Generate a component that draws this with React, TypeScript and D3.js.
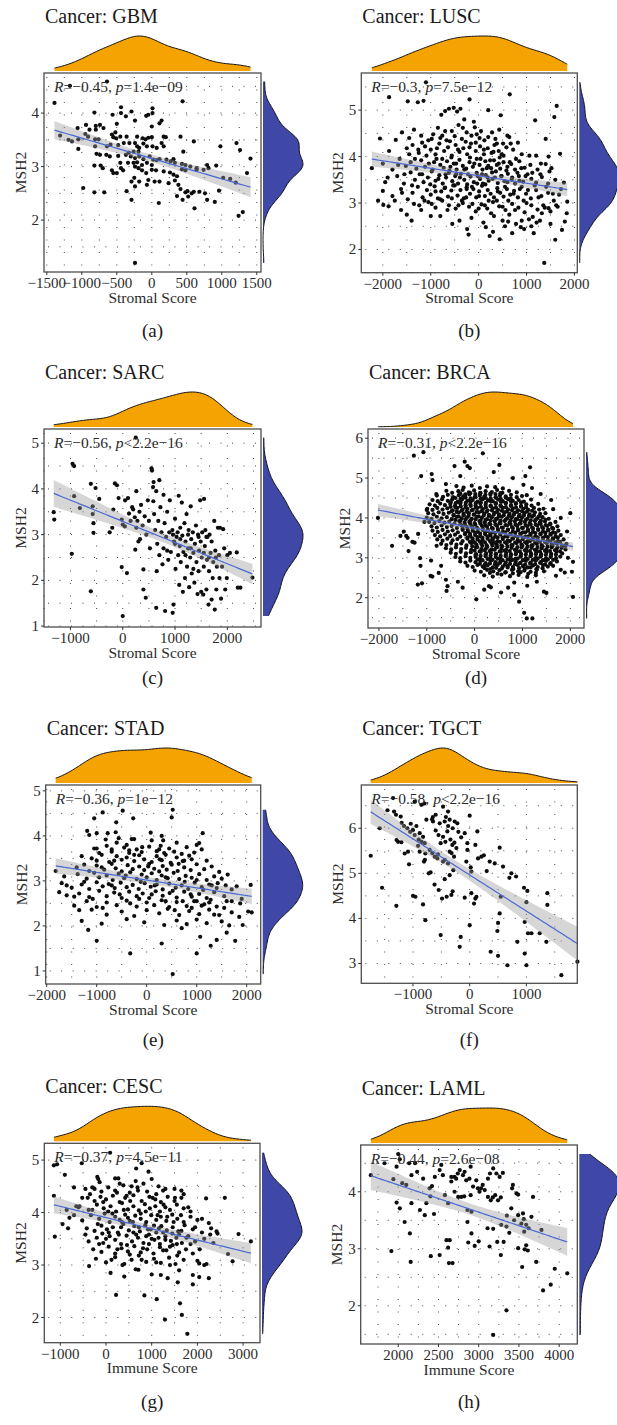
import React from "react";
import * as d3 from "d3";

type Pt = [number, number];

// ---------------- DATA ----------------
const gbmPoints: Pt[] = [[-1170,4.51],[-640,4.59],[-1390,4.19],[440,4.22],[-440,4.11],[10,4.09],[-290,4.03],[-820,4.01],[-560,3.97],[-440,4.00],[-50,3.97],[-80,3.95],[10,4.00],[-370,3.94],[-240,3.86],[-800,3.76],[-940,3.78],[-1060,3.72],[-740,3.78],[-500,3.80],[110,3.81],[140,3.86],[0,3.75],[-890,3.69],[-950,3.61],[-800,3.69],[-690,3.72],[-570,3.60],[-550,3.55],[-510,3.53],[-450,3.56],[-360,3.56],[-520,3.64],[-210,3.56],[-130,3.53],[-90,3.51],[-50,3.54],[0,3.55],[170,3.56],[200,3.55],[410,3.56],[-1050,3.51],[-810,3.51],[-760,3.51],[-910,3.56],[-1190,3.50],[-1310,3.58],[-1140,3.47],[-1050,3.33],[-810,3.38],[-640,3.38],[-590,3.41],[-480,3.40],[-400,3.44],[-320,3.44],[-240,3.44],[-210,3.38],[-180,3.35],[-120,3.43],[-70,3.38],[10,3.38],[70,3.35],[170,3.38],[140,3.44],[600,3.47],[980,3.38],[1210,3.44],[1260,3.31],[450,3.28],[-330,3.26],[-260,3.28],[-190,3.28],[-790,3.24],[-740,3.22],[-650,3.22],[-600,3.19],[-480,3.20],[-370,3.22],[-300,3.19],[-240,3.16],[-180,3.19],[-120,3.14],[-30,3.19],[20,3.13],[70,3.12],[110,3.14],[210,3.13],[310,3.14],[270,3.10],[330,3.07],[430,3.05],[480,3.03],[550,3.00],[640,2.97],[790,3.03],[1410,3.15],[-450,3.07],[-340,3.07],[-260,3.07],[-210,3.08],[-140,3.03],[0,3.03],[-70,3.07],[-820,3.02],[-730,3.02],[-700,2.97],[-570,2.93],[-550,2.88],[-500,2.88],[-440,2.97],[-410,2.93],[-240,3.00],[-190,2.97],[-140,2.93],[-80,2.88],[0,2.94],[60,2.93],[170,2.91],[260,2.89],[310,2.85],[360,2.82],[430,2.95],[480,2.93],[640,2.94],[740,2.94],[810,2.97],[920,3.02],[1020,2.79],[1120,2.77],[1360,2.88],[-290,2.72],[-250,2.79],[-180,2.72],[-50,2.75],[40,2.72],[110,2.72],[240,2.69],[330,2.74],[380,2.66],[-980,2.60],[-820,2.52],[-680,2.52],[-360,2.54],[-240,2.63],[-70,2.66],[410,2.58],[510,2.54],[570,2.50],[480,2.52],[600,2.53],[680,2.53],[760,2.50],[960,2.55],[1200,2.70],[100,2.32],[360,2.45],[440,2.38],[520,2.44],[610,2.22],[790,2.38],[900,2.34],[-290,2.38],[1240,2.08],[1300,2.15],[-240,1.20]];

const luscPoints: Pt[] = [[-1870,5.28],[-1480,5.19],[-1270,5.17],[-1150,5.20],[-1100,5.60],[-190,5.23],[650,5.34],[200,5.00],[460,4.89],[1630,5.09],[1580,4.85],[1180,4.78],[-700,4.98],[-620,5.03],[-520,5.05],[-450,4.97],[-380,5.03],[-780,4.90],[-300,4.80],[-100,4.75],[50,4.55],
[-1600,4.52],[-1450,4.40],[-1350,4.58],[-1200,4.45],[-1050,4.35],[-950,4.48],[-850,4.62],[-800,4.40],[-700,4.55],[-600,4.33],[-500,4.44],[-420,4.68],[-350,4.38],[-250,4.52],[-150,4.45],[-80,4.63],[20,4.40],[120,4.35],[280,4.52],[350,4.38],[430,4.58],[600,4.45],[640,4.42],[820,4.30],[1400,4.38],
[-2060,4.39],[-1870,4.12],[-1730,4.36],[-1500,4.18],[-1380,4.25],[-1250,4.08],[-1120,4.22],[-1000,4.15],[-900,4.05],[-820,4.28],[-720,4.12],[-640,4.20],[-560,4.02],[-480,4.25],[-400,4.10],[-320,4.18],[-240,4.05],[-160,4.28],[-60,4.12],[30,4.22],[110,4.05],[190,4.18],[270,4.08],[330,4.25],[420,4.12],[520,4.02],[580,4.20],[720,4.15],[900,4.05],[1200,4.02],[1700,4.06],[1460,4.00],
[-2230,3.75],[-2000,3.85],[-1800,3.72],[-1650,3.95],[-1520,3.80],[-1420,3.88],[-1300,3.74],[-1200,3.92],[-1120,3.78],[-1040,3.85],[-960,3.72],[-880,3.95],[-800,3.82],[-730,3.76],[-660,3.90],[-590,3.78],[-520,3.85],[-460,3.72],[-400,3.93],[-330,3.80],[-260,3.74],[-190,3.88],[-120,3.78],[-40,3.95],[20,3.82],[80,3.72],[140,3.90],[200,3.80],[260,3.75],[320,3.92],[380,3.82],[450,3.74],[520,3.88],[600,3.78],[680,3.84],[760,3.72],[850,3.90],[960,3.76],[1080,3.82],[1230,3.72],[1400,3.84],[1520,3.75],
[-1950,3.45],[-1700,3.58],[-1560,3.42],[-1420,3.66],[-1330,3.50],[-1230,3.62],[-1150,3.45],[-1060,3.55],[-980,3.68],[-900,3.48],[-820,3.60],[-750,3.42],[-680,3.55],[-620,3.65],[-550,3.47],[-490,3.58],[-430,3.42],[-370,3.63],[-300,3.50],[-240,3.40],[-170,3.57],[-100,3.45],[-40,3.65],[30,3.52],[90,3.42],[150,3.60],[210,3.48],[280,3.66],[340,3.55],[400,3.43],[470,3.58],[540,3.47],[610,3.63],[690,3.50],[760,3.42],[840,3.58],[930,3.46],[1020,3.62],[1100,3.52],[1200,3.44],[1320,3.56],[1450,3.42],[1600,3.50],[1780,3.44],
[-2000,3.26],[-1800,3.15],[-1620,3.30],[-1480,3.08],[-1380,3.22],[-1270,3.35],[-1170,3.12],[-1080,3.28],[-1000,3.18],[-920,3.36],[-850,3.10],[-780,3.25],[-700,3.33],[-640,3.14],[-570,3.27],[-500,3.38],[-440,3.16],[-380,3.28],[-310,3.10],[-250,3.34],[-180,3.20],[-110,3.30],[-50,3.12],[10,3.25],[70,3.37],[130,3.15],[190,3.28],[250,3.20],[320,3.12],[390,3.32],[450,3.22],[520,3.14],[590,3.30],[660,3.18],[740,3.26],[820,3.12],[900,3.35],[990,3.20],[1090,3.10],[1200,3.28],[1310,3.15],[1450,3.22],[1570,3.05],[1680,3.18],[1850,3.03],
[-1990,2.96],[-1880,2.93],[-1500,2.75],[-1350,2.98],[-1200,2.85],[-1050,3.02],[-900,2.90],[-760,3.05],[-620,2.95],[-480,2.88],[-330,3.00],[-200,2.92],[-60,2.82],[60,2.97],[180,2.88],[300,3.02],[430,2.93],[560,2.85],[700,2.98],[830,2.90],[960,2.80],[1100,2.95],[1230,2.86],[1380,2.90],[1500,2.82],[1620,2.95],[1840,2.78],
[-1400,2.62],[-1000,2.72],[-550,2.55],[-150,2.68],[100,2.58],[320,2.72],[500,2.62],[616,2.60],[780,2.55],[950,2.44],[1050,2.65],[1210,2.58],[1320,2.78],[1460,2.89],[1740,2.42],[-240,2.44],[-210,2.32],
[230,2.29],[440,2.22],[1600,2.21],[1370,1.71],[300,2.38],[700,2.35],[880,2.48],[1150,2.35]];

const luscExtraPoints: Pt[] = [[-1450,4.05],[-1330,3.95],[-1260,4.15],[-1180,3.62],[-1090,4.02],[-1010,3.40],[-930,3.88],[-870,4.18],[-840,3.52],[-760,3.95],[-710,3.32],[-670,4.35],[-610,3.70],[-570,3.98],[-530,3.38],[-470,3.62],[-430,4.15],[-390,3.55],[-350,3.05],[-300,3.72],[-270,4.32],[-220,3.62],[-180,3.98],[-140,3.35],[-90,3.85],[-60,4.30],[-20,3.58],[10,3.15],[40,3.95],[70,3.62],[110,4.15],[140,3.40],[170,3.75],[210,3.05],[240,3.92],[290,3.52],[310,4.10],[360,3.68],[400,3.25],[440,3.98],[480,3.58],[510,4.28],[550,3.35],[580,3.70],[620,3.05],[650,3.88],[700,3.55],[730,3.20],[780,3.95],[810,3.65],[860,3.30],[890,3.75],[940,3.05],[980,3.58],[1030,3.28],[1060,4.02],[1120,3.65],[1170,3.38],[1250,3.12],[1290,3.62],[1350,2.95],[1410,3.35],[1480,3.68],[1550,3.20],[1650,2.92],[1720,3.30],[-1680,3.82],[-1600,3.22],[-1550,3.62],[-1390,3.38],[-1240,2.95],[-1130,3.05],[-980,2.98],[-800,3.08],[-650,2.85],[-560,3.10],[-420,2.95],[-260,3.12],[-130,2.98],[0,2.88],[130,2.95],[260,2.78],[380,3.05],[500,2.92],[640,2.75],[760,2.85],[900,2.62],[1000,3.00],[1130,2.70],[1280,2.62],[-1180,4.30],[-980,4.38],[-760,4.45],[-560,4.55],[-330,4.62],[-190,4.20],[-40,4.48],[200,4.42],[380,4.28],[480,4.05],[670,4.28],[-900,3.25],[-690,3.62],[-470,3.85],[-250,3.30],[-30,3.42],[190,3.55],[420,3.85],[600,3.45],[850,3.48],[1300,3.85],[-1900,3.55],[-2100,3.05],[-1750,3.05],[-1620,2.85],[-800,2.72],[-400,2.62],[150,2.48],[550,2.50],[1100,2.50],[1500,2.55],[1800,2.60]];

const sarcPoints: Pt[] = [[-1320,3.49],[-1310,3.33],[-960,4.55],[-930,4.50],[-930,3.84],[-820,3.58],[-975,2.58],[-610,4.11],[-520,4.02],[-575,3.62],[-575,3.45],[-560,3.25],[-560,3.04],[-450,3.78],[-610,1.76],[-250,3.05],[-200,3.15],[-180,3.55],[-150,4.12],[-110,4.08],[-80,3.80],[-20,3.33],[0,3.22],[40,3.18],[0,1.22],[45,3.75],[100,3.80],[-20,2.29],[80,2.16],[120,3.46],[150,3.30],[180,3.60],[200,3.55],[230,3.38],[250,5.12],[260,3.95],[260,3.15],[240,2.67],[280,3.30],[300,2.85],[320,3.50],[350,3.65],[330,2.90],[380,3.20],[395,2.24],[395,1.80],[440,1.62],[420,3.40],[450,3.00],[480,3.75],[500,3.30],[520,2.70],[550,4.45],[560,4.40],[580,4.04],[590,4.15],[585,3.73],[600,3.45],[620,3.10],[640,3.95],[650,2.20],[660,2.80],[680,3.30],[700,4.19],[700,2.55],[720,3.60],[740,3.05],[760,2.35],[780,3.87],[780,2.70],[800,3.25],[640,1.40],[810,1.33],[830,2.95],[850,3.50],[870,2.45],[890,3.05],[900,3.75],[920,2.62],[955,1.29],[970,1.47],[960,3.00],[980,2.85],[1000,3.35],[1010,2.25],[1030,2.95],[1050,3.05],[1060,2.55],[1070,3.85],[1080,1.90],[1090,2.75],[1100,3.15],[1110,2.40],[1130,3.70],[1140,2.98],[1150,1.75],[1160,2.62],[1180,3.25],[1190,2.05],[1200,2.85],[1220,3.45],[1230,2.30],[1250,2.70],[1260,3.10],[1270,1.85],[1290,2.50],[1300,3.62],[1310,2.90],[1320,2.15],[1340,3.05],[1350,2.60],[1370,1.95],[1380,2.80],[1400,3.20],[1410,2.40],[1430,1.70],[1440,3.00],[1450,2.20],[1460,2.65],[1480,3.75],[1490,2.85],[1500,1.75],[1510,2.50],[1520,3.05],[1540,1.69],[1550,2.30],[1555,3.78],[1570,2.75],[1580,3.10],[1600,1.80],[1610,2.45],[1620,2.95],[1640,1.47],[1650,2.20],[1660,3.00],[1680,2.60],[1700,1.58],[1700,2.85],[1720,2.05],[1730,2.40],[1750,3.30],[1760,1.36],[1770,2.65],[1790,1.80],[1800,2.30],[1820,3.15],[1840,2.55],[1850,2.05],[1860,3.15],[1880,1.60],[1900,2.30],[1920,3.12],[1940,2.70],[1960,1.80],[1990,2.05],[2000,2.55],[2050,2.60],[2180,2.61],[2200,1.84],[2250,1.84],[2480,2.06],[1780,2.50],[1600,2.95],[1450,2.95],[1200,2.55],[1000,2.80],[1300,2.70],[1650,2.50],[950,3.10],[1100,2.90],[850,2.65],[1350,2.25],[1550,2.60],[1250,3.00]];

const brcaOuterPoints: Pt[] = [[-2020,4.00],[-1725,3.30],[-1480,3.66],[-1430,3.55],[-1400,3.50],[-1380,3.17],[-1255,3.38],[-1270,5.56],[-1070,5.65],[-1117,5.05],[-1140,2.99],[-1130,2.80],[-1187,2.33],[-1100,2.36],[-1180,3.60],[-1050,3.90],[-920,2.55],[-883,2.53],[-910,2.93],[-897,5.10],[-880,4.95],[-586,2.17],[-566,2.29],[-420,5.30],[-207,5.41],[-150,5.30],[-100,5.25],[172,5.62],[517,5.33],[1159,5.27],[1021,4.83],[1060,5.05],[1380,4.60],[1642,4.22],[1932,3.66],[2000,4.12],[2056,2.90],[2035,2.65],[2056,2.02],[1884,2.63],[35,1.96],[300,2.29],[340,2.26],[552,2.13],[828,2.07],[828,2.38],[930,1.90],[1035,1.62],[1449,2.15],[1500,2.12],[1090,1.48],[1207,1.48],[-794,3.30],[-700,2.80],[-750,2.62],[-600,2.45],[-350,2.40],[-250,2.25],[200,2.20],[700,2.25],[1100,2.30],[1300,2.40],[1700,2.55],[1800,2.70],[1900,3.30],[1950,3.00],[1800,4.00],[1600,4.45],[1200,4.75],[800,5.00],[400,5.15],[-300,5.05],[-600,4.85],[-800,4.60],[-1000,4.20],[-1300,3.40],[-1550,3.55]];

const brcaCorePoints: Pt[] = [[-380,4.80],[-230,4.76],[-60,4.81],[110,4.75],[260,4.79],[430,4.77],[590,4.74],
[-590,4.68],[-470,4.63],[-340,4.67],[-250,4.70],[-120,4.64],[-10,4.69],[120,4.62],[230,4.67],[360,4.65],[470,4.70],[580,4.63],[720,4.68],[880,4.64],
[-790,4.56],[-660,4.53],[-560,4.58],[-450,4.52],[-330,4.57],[-240,4.54],[-110,4.59],[0,4.52],[110,4.56],[200,4.53],[330,4.58],[440,4.51],[530,4.56],[650,4.54],[760,4.58],[880,4.52],[990,4.55],[1090,4.57],
[-880,4.45],[-770,4.42],[-680,4.47],[-560,4.43],[-470,4.46],[-350,4.41],[-260,4.47],[-150,4.43],[-40,4.45],[60,4.41],[170,4.47],[280,4.44],[380,4.42],[490,4.46],[590,4.42],[700,4.47],[800,4.43],[920,4.45],[1030,4.41],[1180,4.46],
[-940,4.34],[-830,4.31],[-720,4.36],[-620,4.32],[-510,4.35],[-410,4.30],[-300,4.36],[-190,4.32],[-90,4.34],[20,4.31],[120,4.36],[230,4.33],[330,4.30],[440,4.35],[540,4.31],[650,4.36],[760,4.32],[860,4.35],[970,4.30],[1080,4.34],[1190,4.31],[1330,4.35],
[-990,4.23],[-880,4.20],[-780,4.25],[-670,4.21],[-570,4.24],[-460,4.19],[-360,4.25],[-250,4.21],[-150,4.23],[-40,4.20],[60,4.25],[170,4.22],[270,4.19],[380,4.24],[490,4.20],[590,4.25],[700,4.21],[800,4.24],[910,4.19],[1020,4.23],[1120,4.20],[1240,4.25],[1350,4.21],[1440,4.23],
[-970,4.12],[-860,4.09],[-750,4.14],[-650,4.10],[-540,4.13],[-440,4.08],[-330,4.14],[-230,4.10],[-120,4.12],[-10,4.09],[90,4.14],[200,4.11],[300,4.08],[410,4.13],[510,4.09],[620,4.14],[730,4.10],[830,4.13],[940,4.08],[1040,4.12],[1150,4.09],[1260,4.14],[1370,4.10],[1480,4.12],
[-1000,4.01],[-900,3.98],[-790,4.03],[-690,3.99],[-580,4.02],[-480,3.97],[-370,4.03],[-270,3.99],[-160,4.01],[-60,3.98],[50,4.03],[150,4.00],[260,3.97],[360,4.02],[470,3.98],[570,4.03],[680,3.99],[780,4.02],[890,3.97],[990,4.01],[1100,3.98],[1200,4.03],[1310,3.99],[1420,4.02],[1550,3.98],
[-950,3.90],[-840,3.87],[-740,3.92],[-630,3.88],[-530,3.91],[-420,3.86],[-320,3.92],[-210,3.88],[-110,3.90],[0,3.87],[100,3.92],[210,3.89],[310,3.86],[420,3.91],[520,3.87],[630,3.92],[730,3.88],[840,3.91],[940,3.86],[1050,3.90],[1150,3.87],[1260,3.92],[1360,3.88],[1470,3.91],[1580,3.86],[1690,3.90],
[-900,3.79],[-790,3.76],[-690,3.81],[-580,3.77],[-480,3.80],[-370,3.75],[-270,3.81],[-160,3.77],[-60,3.79],[50,3.76],[150,3.81],[260,3.78],[360,3.75],[470,3.80],[570,3.76],[680,3.81],[780,3.77],[890,3.80],[990,3.75],[1100,3.79],[1200,3.76],[1310,3.81],[1410,3.77],[1520,3.80],[1620,3.75],[1730,3.79],
[-880,3.68],[-770,3.65],[-670,3.70],[-560,3.66],[-460,3.69],[-350,3.64],[-250,3.70],[-140,3.66],[-40,3.68],[70,3.65],[170,3.70],[280,3.67],[380,3.64],[490,3.69],[590,3.65],[700,3.70],[800,3.66],[910,3.69],[1010,3.64],[1120,3.68],[1220,3.65],[1330,3.70],[1430,3.66],[1540,3.69],[1640,3.64],[1750,3.68],
[-830,3.57],[-720,3.54],[-620,3.59],[-510,3.55],[-410,3.58],[-300,3.53],[-200,3.59],[-90,3.55],[10,3.57],[120,3.54],[220,3.59],[330,3.56],[430,3.53],[540,3.58],[640,3.54],[750,3.59],[850,3.55],[960,3.58],[1060,3.53],[1170,3.57],[1270,3.54],[1380,3.59],[1480,3.55],[1590,3.58],[1690,3.53],[1800,3.57],
[-780,3.46],[-670,3.43],[-570,3.48],[-460,3.44],[-360,3.47],[-250,3.42],[-150,3.48],[-40,3.44],[60,3.46],[170,3.43],[270,3.48],[380,3.45],[480,3.42],[590,3.47],[690,3.43],[800,3.48],[900,3.44],[1010,3.47],[1110,3.42],[1220,3.46],[1320,3.43],[1430,3.48],[1530,3.44],[1640,3.47],[1740,3.42],[1860,3.46],
[-700,3.35],[-590,3.32],[-490,3.37],[-380,3.33],[-280,3.36],[-170,3.31],[-70,3.37],[40,3.33],[140,3.35],[250,3.32],[350,3.37],[460,3.34],[560,3.31],[670,3.36],[770,3.32],[880,3.37],[980,3.33],[1090,3.36],[1190,3.31],[1300,3.35],[1400,3.32],[1510,3.37],[1610,3.33],[1720,3.36],[1830,3.31],[1920,3.35],
[-600,3.24],[-490,3.21],[-390,3.26],[-280,3.22],[-180,3.25],[-70,3.20],[30,3.26],[140,3.22],[240,3.24],[350,3.21],[450,3.26],[560,3.23],[660,3.20],[770,3.25],[870,3.21],[980,3.26],[1080,3.22],[1190,3.25],[1290,3.20],[1400,3.24],[1500,3.21],[1610,3.26],[1710,3.22],[1820,3.25],[1900,3.21],
[-500,3.13],[-390,3.10],[-290,3.15],[-180,3.11],[-80,3.14],[30,3.09],[130,3.15],[240,3.11],[340,3.13],[450,3.10],[550,3.15],[660,3.12],[760,3.09],[870,3.14],[970,3.10],[1080,3.15],[1180,3.11],[1290,3.14],[1390,3.09],[1500,3.13],[1600,3.10],[1710,3.15],[1830,3.11],
[-400,3.02],[-300,2.99],[-190,3.04],[-90,3.00],[20,3.03],[120,2.98],[230,3.04],[330,3.00],[440,3.02],[540,2.99],[650,3.04],[750,3.01],[860,2.98],[960,3.03],[1070,2.99],[1170,3.04],[1280,3.00],[1380,3.03],[1490,2.98],[1590,3.02],[1700,2.99],[1790,3.03],
[-300,2.91],[-190,2.88],[-90,2.93],[20,2.89],[120,2.92],[230,2.87],[330,2.93],[440,2.89],[540,2.91],[650,2.88],[750,2.93],[860,2.90],[960,2.87],[1070,2.92],[1170,2.88],[1280,2.93],[1380,2.89],[1490,2.92],[1590,2.87],[1720,2.91],
[-150,2.80],[-40,2.77],[60,2.82],[170,2.78],[270,2.81],[380,2.76],[480,2.82],[590,2.78],[690,2.80],[800,2.77],[900,2.82],[1010,2.79],[1110,2.76],[1220,2.81],[1320,2.77],[1430,2.82],[1530,2.78],[1640,2.80],
[0,2.68],[130,2.65],[260,2.70],[390,2.66],[520,2.69],[650,2.64],[780,2.70],[910,2.66],[1040,2.68],[1170,2.65],[1300,2.70],[1450,2.66],
[200,2.56],[380,2.53],[560,2.58],[740,2.54],[920,2.57],[1100,2.52],[1280,2.56]];

const brcaCore2Points: Pt[] = [[-300,4.61],[-195,4.59],[-90,4.62],[15,4.60],[120,4.63],[225,4.58],[330,4.61],[435,4.60],[540,4.62],
[-400,4.50],[-295,4.48],[-190,4.51],[-85,4.49],[20,4.52],[125,4.48],[230,4.50],[335,4.49],[440,4.52],[545,4.48],[650,4.51],[755,4.49],
[-500,4.39],[-395,4.37],[-290,4.40],[-185,4.38],[-80,4.41],[25,4.37],[130,4.39],[235,4.38],[340,4.41],[445,4.37],[550,4.40],[655,4.38],[760,4.41],[865,4.37],[970,4.39],
[-500,4.28],[-395,4.26],[-290,4.29],[-185,4.27],[-80,4.30],[25,4.26],[130,4.28],[235,4.27],[340,4.30],[445,4.26],[550,4.29],[655,4.27],[760,4.30],[865,4.26],[970,4.28],[1075,4.27],
[-480,4.17],[-375,4.15],[-270,4.18],[-165,4.16],[-60,4.19],[45,4.15],[150,4.17],[255,4.16],[360,4.19],[465,4.15],[570,4.18],[675,4.16],[780,4.19],[885,4.15],[990,4.17],[1095,4.16],[1200,4.18],
[-440,4.06],[-335,4.04],[-230,4.07],[-125,4.05],[-20,4.08],[85,4.04],[190,4.06],[295,4.05],[400,4.08],[505,4.04],[610,4.07],[715,4.05],[820,4.08],[925,4.04],[1030,4.06],[1135,4.05],[1240,4.07],[1345,4.04],
[-400,3.95],[-295,3.93],[-190,3.96],[-85,3.94],[20,3.97],[125,3.93],[230,3.95],[335,3.94],[440,3.97],[545,3.93],[650,3.96],[755,3.94],[860,3.97],[965,3.93],[1070,3.95],[1175,3.94],[1280,3.96],[1385,3.93],[1480,3.95],
[-300,3.84],[-195,3.82],[-90,3.85],[15,3.83],[120,3.86],[225,3.82],[330,3.84],[435,3.83],[540,3.86],[645,3.82],[750,3.85],[855,3.83],[960,3.86],[1065,3.82],[1170,3.84],[1275,3.83],[1380,3.85],[1485,3.82],[1580,3.84],
[-250,3.73],[-145,3.71],[-40,3.74],[65,3.72],[170,3.75],[275,3.71],[380,3.73],[485,3.72],[590,3.75],[695,3.71],[800,3.74],[905,3.72],[1010,3.75],[1115,3.71],[1220,3.73],[1325,3.72],[1430,3.74],[1535,3.71],[1640,3.73],
[-200,3.62],[-95,3.60],[10,3.63],[115,3.61],[220,3.64],[325,3.60],[430,3.62],[535,3.61],[640,3.64],[745,3.60],[850,3.63],[955,3.61],[1060,3.64],[1165,3.60],[1270,3.62],[1375,3.61],[1480,3.63],[1585,3.60],[1690,3.62],
[-150,3.51],[-45,3.49],[60,3.52],[165,3.50],[270,3.53],[375,3.49],[480,3.51],[585,3.50],[690,3.53],[795,3.49],[900,3.52],[1005,3.50],[1110,3.53],[1215,3.49],[1320,3.51],[1425,3.50],[1530,3.52],[1635,3.49],[1740,3.51],
[-100,3.40],[5,3.38],[110,3.41],[215,3.39],[320,3.42],[425,3.38],[530,3.40],[635,3.39],[740,3.42],[845,3.38],[950,3.41],[1055,3.39],[1160,3.42],[1265,3.38],[1370,3.40],[1475,3.39],[1580,3.41],[1685,3.38],[1790,3.40],
[-50,3.29],[55,3.27],[160,3.30],[265,3.28],[370,3.31],[475,3.27],[580,3.29],[685,3.28],[790,3.31],[895,3.27],[1000,3.30],[1105,3.28],[1210,3.31],[1315,3.27],[1420,3.29],[1525,3.28],[1630,3.30],[1735,3.27],[1840,3.29],
[0,3.18],[105,3.16],[210,3.19],[315,3.17],[420,3.20],[525,3.16],[630,3.18],[735,3.17],[840,3.20],[945,3.16],[1050,3.19],[1155,3.17],[1260,3.20],[1365,3.16],[1470,3.18],[1575,3.17],[1680,3.19],[1785,3.16],
[20,3.07],[125,3.05],[230,3.08],[335,3.06],[440,3.09],[545,3.05],[650,3.07],[755,3.06],[860,3.09],[965,3.05],[1070,3.08],[1175,3.06],[1280,3.09],[1385,3.05],[1490,3.07],[1595,3.06],[1700,3.08],
[60,2.96],[165,2.94],[270,2.97],[375,2.95],[480,2.98],[585,2.94],[690,2.96],[795,2.95],[900,2.98],[1005,2.94],[1110,2.97],[1215,2.95],[1320,2.98],[1425,2.94],[1530,2.96],[1640,2.95],
[110,2.85],[215,2.83],[320,2.86],[425,2.84],[530,2.87],[635,2.83],[740,2.85],[845,2.84],[950,2.87],[1055,2.83],[1160,2.86],[1265,2.84],[1370,2.87],[1475,2.83],[1580,2.85],
[210,2.74],[330,2.72],[450,2.75],[570,2.73],[690,2.76],[810,2.72],[930,2.74],[1050,2.73],[1170,2.76],[1290,2.72],[1420,2.74],
[320,2.62],[480,2.60],[640,2.63],[800,2.61],[960,2.64],[1120,2.60],[1280,2.62]];

const stadPoints: Pt[] = [[520,4.58],[500,4.41],[-480,4.56],[-880,4.52],[-1050,4.39],[-610,4.30],[-270,4.39],[-1190,4.11],[-1150,4.02],[-1000,4.06],[-780,4.06],[-620,4.08],[80,4.07],[1120,4.06],[1050,3.84],[1000,3.80],[-560,3.95],[-300,3.93],[-250,3.93],[300,4.00],[330,3.90],[-820,3.92],[-90,3.75],[-1000,3.72],[-700,3.70],[-350,3.68],
[-1050,3.72],[-950,3.62],[-800,3.78],[-700,3.65],[-450,3.74],[-350,3.62],[-200,3.70],[-100,3.64],[50,3.76],[200,3.66],[280,3.78],[350,3.62],[450,3.72],[550,3.65],[700,3.60],[800,3.75],[950,3.63],[1100,3.70],
[-1100,3.50],[-1000,3.45],[-900,3.58],[-750,3.42],[-600,3.55],[-500,3.47],[-400,3.52],[-250,3.44],[-150,3.57],[-50,3.48],[100,3.42],[200,3.55],[300,3.46],[380,3.58],[480,3.40],[600,3.52],[720,3.44],[850,3.56],[900,3.48],[1200,3.45],
[-1400,3.30],[-1250,3.36],[-1150,3.22],[-1000,3.34],[-850,3.25],[-700,3.38],[-620,3.28],[-500,3.21],[-380,3.35],[-280,3.26],[-150,3.32],[-50,3.24],[50,3.38],[150,3.27],[250,3.21],[320,3.33],[400,3.25],[500,3.36],[620,3.22],[750,3.30],[880,3.24],[1000,3.37],[1150,3.26],[1300,3.32],[1450,3.20],
[-1820,3.22],[-1650,3.10],[-1380,3.15],[-1200,3.05],[-1050,3.18],[-950,3.08],[-800,3.12],[-680,3.02],[-560,3.16],[-450,3.06],[-330,3.19],[-200,3.04],[-100,3.14],[0,3.08],[100,3.17],[200,3.02],[300,3.12],[420,3.06],[540,3.18],[650,3.04],[780,3.11],[900,3.07],[1050,3.15],[1200,3.02],[1350,3.10],[1500,3.05],[1620,3.14],
[-1700,2.95],[-1500,2.85],[-1300,2.92],[-1150,2.82],[-1000,2.97],[-880,2.88],[-760,2.93],[-640,2.84],[-520,2.96],[-400,2.86],[-280,2.91],[-160,2.82],[-40,2.95],[80,2.87],[200,2.92],[320,2.81],[450,2.94],[580,2.85],[700,2.90],[830,2.82],[960,2.96],[1100,2.86],[1250,2.92],[1400,2.84],[1580,2.90],[1700,2.81],
[-1750,2.75],[-1600,2.68],[-1350,2.72],[-1150,2.64],[-950,2.78],[-800,2.66],[-650,2.74],[-500,2.62],[-350,2.76],[-200,2.66],[-80,2.72],[50,2.62],[180,2.77],[320,2.67],[460,2.73],[600,2.63],[750,2.76],[900,2.65],[1050,2.71],[1200,2.62],[1350,2.75],[1550,2.66],
[-1450,2.45],[-1200,2.55],[-1000,2.42],[-800,2.52],[-600,2.46],[-400,2.56],[-200,2.43],[0,2.52],[150,2.46],[300,2.57],[450,2.42],[600,2.53],[800,2.44],[950,2.55],[1100,2.45],[1250,2.52],[1400,2.43],[1600,2.55],
[-1100,2.36],[-800,2.25],[-500,2.32],[-250,2.22],[0,2.35],[250,2.28],[420,2.38],[650,2.24],[850,2.33],[1050,2.26],[1250,2.36],[1450,2.24],[1700,2.30],[2030,2.32],[2100,2.30],
[-1300,2.11],[-900,2.05],[-400,2.15],[-50,2.08],[350,2.02],[600,2.12],[800,2.04],[1000,2.14],[1200,2.06],[1500,2.10],[1650,2.01],[1920,2.02],
[-1170,1.91],[-1000,1.67],[-330,1.39],[300,1.61],[520,0.93],[700,1.95],[1000,1.39],[1070,1.76],[1280,1.56],[1400,1.69],[1770,1.67],[1600,1.85],[2080,2.91],[1870,2.50]];

const stadExtraPoints: Pt[] = [[-900,3.30],[-650,3.45],[-420,3.12],[-250,3.58],[-120,2.98],[30,3.32],[160,2.90],[260,3.48],[380,3.08],[520,2.78],[640,3.38],[760,2.98],[880,2.70],[1000,3.02],[1130,2.80],[1280,2.58],[1420,2.95],[1550,2.40],[-1250,2.98],[-1080,2.60],[-880,2.40],[-700,2.90],[-540,2.70],[-330,2.50],[-150,2.60],[100,2.70],[380,2.55],[560,2.35],[720,2.55],[900,2.40],[1150,2.48],[1350,2.25],[1700,2.55],[1850,2.20],[-600,3.85],[-400,3.80],[100,3.90],[250,3.70],[600,3.85],[750,3.45],[-1300,3.55],[-1600,2.90],[-1450,2.65],[-1350,2.35],[1900,2.60],[1800,2.88],[1300,2.90],[1000,2.55]];

const tgctPoints: Pt[] = [[-1746,5.39],[-1546,4.68],[-1294,4.28],[-958,4.48],[-823,4.31],[-782,3.96],[-512,3.63],[-159,3.59],[-176,3.37],[0,3.85],[370,3.26],[500,3.17],[488,3.72],[500,3.90],[529,4.11],[547,4.48],[529,5.57],[353,5.26],[441,5.22],[588,5.15],[735,5.00],[818,4.93],[958,4.68],[1017,4.61],[1000,4.36],[1370,4.56],[1370,4.30],[1029,3.67],[1090,3.67],[1235,3.67],[970,3.92],[841,3.48],[970,3.22],[1000,2.96],[665,2.96],[1617,2.74],[1900,3.04],[1352,3.48],[29,4.56],[76,4.33],[100,4.44],[118,4.48],[-88,4.46],[-323,4.52],[-406,4.48],[-488,4.44],[-547,4.63],[-441,4.87],[-353,4.96],[-288,5.07],
[-1352,6.67],[-970,6.59],[-853,6.52],[-800,6.55],[-382,6.37],[-470,6.48],[0,6.28],[-1334,6.37],[-1217,6.26],[-1587,6.00],[-1450,6.40],[-1040,6.10],[-940,6.05],[-764,6.19],[-664,6.20],[-647,6.15],[-529,6.11],[-441,6.15],[-353,6.19],[-265,6.15],[-218,6.11],[-1264,5.70],[-1290,5.74],[-1205,5.69],[-1147,5.44],[-1088,5.48],[-1000,5.96],[-970,5.85],[-882,5.89],[-823,5.81],[-794,5.67],[-882,5.48],[-782,5.44],[-911,5.61],[-806,5.26],[-790,5.30],[-706,5.52],[-660,5.45],[-617,5.37],[-560,5.42],[-512,5.67],[-470,5.81],[-429,5.70],[-394,5.93],[-340,5.75],[-306,5.63],[-270,5.68],[-235,5.56],[-353,5.48],[-320,5.45],[-276,5.37],[-441,5.30],[-470,5.26],[-1070,5.20],[-723,5.00],[-690,5.02],[-570,5.33],[-382,5.22],[-88,5.89],[-41,5.67],[-41,5.52],[135,5.93],[100,5.63],[206,5.37],[147,5.33],[18,5.13],[29,5.04],[-59,5.26],[-1100,6.00],[-1050,5.92],[-1160,6.05],[-1200,6.12],[-1300,6.30],[-900,5.75],[-850,5.70],[-600,5.95],[-550,5.85],[-380,6.05],[-300,6.00],[-200,5.92],[-150,5.80],[-650,6.25],[-600,6.30],[-420,6.25],[-1000,4.50],[-300,4.60],[250,5.40],[300,5.05],[700,4.90],[-620,4.75]];

const cescPoints: Pt[] = [[-1140,4.90],[-1070,4.92],[-530,4.94],[90,5.14],[660,4.84],[780,4.94],[930,4.78],[-900,4.72],[-190,4.68],[-170,4.64],[200,4.65],[270,4.65],[1000,4.64],[560,4.50],[-140,4.58],[-1140,4.32],[-1120,3.54],[-950,3.78],[-830,3.70],[-860,4.05],[-580,4.12],[-370,2.98],[-700,4.48],[220,2.43],[840,2.42],[1110,2.35],[710,2.91],[1200,2.81],[1290,1.96],[1660,2.05],[1620,2.27],[1570,2.67],[1780,1.69],[1900,2.81],[2040,2.77],[1900,2.63],[2040,3.03],[2000,3.08],[2770,3.07],[2900,3.59],[3170,3.45],[2670,3.21],[2420,3.64],[2440,3.60],[2190,4.27],[2600,4.28],[-650,4.12],[-450,4.45],[-300,4.48],[-350,4.35],[1300,4.45],[1500,4.45],[1650,4.42],[1700,4.35],[2200,3.02],[2250,2.75],[2150,3.00],
[-250,4.45],[-100,4.40],[50,4.48],[200,4.42],[380,4.52],[520,4.38],[700,4.42],[900,4.40],[1100,4.35],[1250,4.42],
[-400,4.28],[-250,4.22],[-120,4.30],[0,4.25],[150,4.32],[300,4.20],[420,4.28],[600,4.33],[780,4.22],[950,4.30],[1080,4.25],[1200,4.20],[1350,4.30],[1500,4.22],[1650,4.28],
[-600,4.10],[-380,4.05],[-200,4.15],[-50,4.08],[100,4.12],[220,4.02],[350,4.18],[480,4.06],[600,4.12],[720,4.04],[850,4.16],[960,4.08],[1080,4.12],[1180,4.02],[1300,4.10],[1400,4.05],[1550,4.15],[1700,4.08],[1850,4.02],
[-800,3.90],[-520,3.85],[-330,3.95],[-150,3.88],[-30,3.98],[80,3.82],[200,3.92],[300,3.86],[420,3.96],[520,3.84],[640,3.94],[760,3.88],[880,3.82],[990,3.95],[1100,3.86],[1200,3.92],[1320,3.84],[1450,3.96],[1560,3.88],[1700,3.82],[1850,3.92],[2000,3.86],[2250,3.80],
[-420,3.70],[-250,3.65],[-100,3.75],[20,3.68],[150,3.72],[260,3.62],[380,3.78],[500,3.66],[620,3.74],[740,3.64],[860,3.76],[980,3.68],[1100,3.62],[1210,3.74],[1330,3.66],[1460,3.72],[1580,3.64],[1720,3.76],[1900,3.68],[2100,3.62],[2300,3.70],
[-380,3.45],[-200,3.52],[-60,3.42],[80,3.55],[200,3.48],[330,3.40],[450,3.56],[570,3.45],[700,3.52],[820,3.42],[940,3.58],[1060,3.48],[1180,3.40],[1300,3.55],[1420,3.46],[1540,3.52],[1660,3.42],[1800,3.55],[1950,3.45],[2150,3.50],[2350,3.42],
[-280,3.30],[-100,3.25],[60,3.35],[200,3.22],[340,3.32],[480,3.26],[620,3.36],[760,3.24],[900,3.30],[1040,3.22],[1180,3.34],[1320,3.28],[1460,3.38],[1600,3.24],[1750,3.30],[1900,3.22],
[-220,3.12],[0,3.05],[200,3.15],[400,3.02],[560,3.10],[720,3.18],[880,3.06],[1050,3.12],[1200,3.04],[1380,3.14],[1520,3.02],[1700,3.10],
[100,2.85],[400,2.78],[650,2.92],[1000,2.82],[1350,2.75],[1600,2.90]];

const cescExtraPoints: Pt[] = [[-300,4.05],[-180,3.78],[-60,4.20],[60,3.62],[140,3.98],[240,4.38],[330,3.72],[390,4.05],[460,3.38],[530,4.22],[590,3.82],[660,3.58],[690,4.48],[760,3.98],[810,3.32],[870,4.02],[920,3.68],[1020,4.28],[1050,3.75],[1130,3.95],[1150,3.52],[1250,3.62],[1260,4.15],[1340,3.92],[1400,3.35],[1480,3.82],[1510,4.28],[1600,3.58],[1640,3.95],[1760,3.52],[1800,4.10],[1950,3.72],[2100,3.88],[2280,3.58],[-450,3.58],[-520,4.28],[-700,3.95],[-150,3.40],[0,3.50],[120,3.10],[280,3.58],[360,3.00],[520,3.20],[600,3.62],[780,3.10],[940,3.40],[1100,3.05],[1250,3.28],[1400,3.00],[1560,3.18],[1650,3.65],[1850,3.40],[2050,3.30],[300,4.55],[450,4.32],[650,4.60],[820,4.55],[1150,4.50],[50,4.02],[-80,3.60],[350,3.82],[480,3.90],[720,3.72],[1000,3.50],[1160,3.70],[1300,3.48],[1450,3.60],[250,3.30],[880,3.55],[1550,3.40]];

const lamlPoints: Pt[] = [[1660,4.29],[1830,4.50],[1940,4.22],[1980,4.44],[2020,4.57],[2000,4.66],[2135,4.50],[2165,4.29],[2235,4.35],[1980,3.81],[2020,3.71],[2080,3.47],[1915,2.96],[2155,2.77],[2165,3.80],[2145,3.27],[2270,3.68],[2330,3.59],[2445,3.61],[2405,2.87],[2390,4.06],[2420,4.10],[2310,4.23],[2455,4.26],[2515,4.38],[2535,4.47],[2555,4.29],[2580,3.94],[2620,3.80],[2660,4.18],[2660,4.26],[2700,4.26],[2720,4.23],[2740,4.32],[2765,4.38],[2805,4.29],[2825,4.35],[2845,4.20],[2885,4.23],[2900,4.44],[2900,3.94],[2860,3.68],[2820,3.92],[2785,3.91],[2745,3.91],[2700,4.00],[2930,4.09],[2970,4.20],[2990,4.06],[3010,4.00],[3030,4.06],[3050,4.12],[3075,4.03],[3115,3.91],[3150,3.85],[3175,3.90],[3205,3.94],[3240,3.85],[3275,3.90],[3115,4.23],[3140,4.32],[3180,4.41],[3220,4.32],[3300,4.33],[3260,4.26],[2910,3.65],[2860,3.47],[2910,3.27],[2870,3.11],[2950,3.05],[3000,3.13],[3135,3.04],[3180,3.35],[3110,3.36],[3230,3.12],[3280,3.42],[3310,3.12],[3275,2.89],[3345,3.39],[3405,3.71],[3415,4.06],[3425,4.12],[3470,3.97],[3490,3.95],[3490,3.59],[3530,3.44],[3550,3.62],[3590,3.42],[3565,3.30],[3490,3.01],[3540,2.68],[3570,2.99],[3590,3.06],[3610,2.97],[3655,3.56],[3675,3.91],[3715,2.77],[3780,3.33],[3800,2.27],[3895,2.37],[3945,2.65],[4100,2.57],[3345,1.92],[3180,1.49],[2675,2.75],[2515,2.89],[2600,3.15],[2640,3.15],[2620,3.02],[2630,2.75],[2350,3.80],[2210,4.50],[2050,4.15],[2100,4.12],[2400,3.92],[3560,3.52],[3620,3.36],[3350,3.58],[3440,3.50],[3380,3.28]];

const titles = ["Cancer: GBM", "Cancer: LUSC", "Cancer: SARC", "Cancer: BRCA", "Cancer: STAD", "Cancer: TGCT", "Cancer: CESC", "Cancer: LAML"];
const captions = ["(a)", "(b)", "(c)", "(d)", "(e)", "(f)", "(g)", "(h)"];
const xLabels = ["Stromal Score", "Stromal Score", "Stromal Score", "Stromal Score", "Stromal Score", "Stromal Score", "Immune Score", "Immune Score"];
const rValues = ["−0.45", "−0.3", "−0.56", "−0.31", "−0.36", "−0.58", "−0.37", "−0.44"];
const pValues = ["=1.4e−09", "=7.5e−12", "<2.2e−16", "<2.2e−16", "=1e−12", "<2.2e−16", "=4.5e−11", "=2.6e−08"];
const xTickSets = [
  [-1500, -1000, -500, 0, 500, 1000, 1500],
  [-2000, -1000, 0, 1000, 2000],
  [-1000, 0, 1000, 2000],
  [-2000, -1000, 0, 1000, 2000],
  [-2000, -1000, 0, 1000, 2000],
  [-1000, 0, 1000],
  [-1000, 0, 1000, 2000, 3000],
  [2000, 2500, 3000, 3500, 4000],
];
const yTickSets = [[2, 3, 4], [2, 3, 4, 5], [1, 2, 3, 4, 5], [2, 3, 4, 5, 6], [1, 2, 3, 4, 5], [3, 4, 5, 6], [2, 3, 4, 5], [2, 3, 4]];
const xDomains: [number, number][] = [[-1540, 1560], [-2450, 2060], [-1506, 2644], [-2228, 2286], [-2020, 2280], [-1912, 1898], [-1350, 3370], [1534, 4225]];
const yDomains: [number, number][] = [[1.03, 4.75], [1.5, 5.8], [0.98, 5.31], [1.24, 6.23], [0.71, 5.13], [2.56, 6.96], [1.52, 5.32], [1.33, 4.82]];
const pointSets: Pt[][] = [
  gbmPoints,
  luscPoints.concat(luscExtraPoints),
  sarcPoints,
  brcaOuterPoints.concat(brcaCorePoints, brcaCore2Points),
  stadPoints.concat(stadExtraPoints),
  tgctPoints,
  cescPoints.concat(cescExtraPoints),
  lamlPoints,
];

// ---------------- LAYOUT ----------------
interface Box { x0: number; x1: number; y0: number; y1: number }
const boxes: Box[] = [
  { x0: 44, x1: 261, y0: 73, y1: 272 },
  { x0: 361.3, x1: 577.3, y0: 73, y1: 272.7 },
  { x0: 44, x1: 261, y0: 429, y1: 627 },
  { x0: 368, x1: 584, y0: 429, y1: 628 },
  { x0: 45.7, x1: 260.7, y0: 785, y1: 984 },
  { x0: 361.3, x1: 577.3, y0: 785, y1: 983.3 },
  { x0: 44.3, x1: 260, y0: 1143.3, y1: 1342.7 },
  { x0: 360.7, x1: 577.3, y0: 1145, y1: 1344 },
];
const captionYs = [337, 337, 684, 684, 1046, 1046, 1408, 1408];
const showRight = [true, true, true, true, true, false, true, true];

const FONT = '"Liberation Serif", "DejaVu Serif", "Times New Roman", serif';
const ORANGE = "#F5A300";
const BLUE = "#3F48A6";
const LINE = "#4A68D4";
const TXT = "#2b2b2b";

function kde(values: number[], lo: number, hi: number, n = 140): [number, number][] {
  const s = values.slice().sort(d3.ascending);
  const sd = d3.deviation(s) || 1;
  const iqr = (d3.quantileSorted(s, 0.75) as number) - (d3.quantileSorted(s, 0.25) as number);
  const bw = 0.9 * Math.min(sd, iqr / 1.34 || sd) * Math.pow(s.length, -0.2);
  return d3.range(n).map((i) => {
    const x = lo + ((hi - lo) * i) / (n - 1);
    const d = d3.sum(s, (v) => Math.exp(-0.5 * ((x - v) / bw) ** 2));
    return [x, d] as [number, number];
  });
}

function fitLine(points: Pt[]) {
  const n = points.length;
  const mx = d3.mean(points, (p) => p[0]) as number;
  const my = d3.mean(points, (p) => p[1]) as number;
  const sxx = d3.sum(points, (p) => (p[0] - mx) ** 2);
  const sxy = d3.sum(points, (p) => (p[0] - mx) * (p[1] - my));
  const b = sxy / sxx;
  const a = my - b * mx;
  const sse = d3.sum(points, (p) => (p[1] - a - b * p[0]) ** 2);
  const s = Math.sqrt(sse / (n - 2));
  const [lo, hi] = d3.extent(points, (p) => p[0]) as [number, number];
  return d3.range(80).map((i) => {
    const x = lo + ((hi - lo) * i) / 79;
    const yh = a + b * x;
    const se = s * Math.sqrt(1 / n + (x - mx) ** 2 / sxx);
    return { x, y: yh, lo: yh - 1.97 * se, hi: yh + 1.97 * se };
  });
}

function gridValues(ticks: number[], domain: [number, number]) {
  const step = (ticks[1] - ticks[0]) / 2;
  const start = Math.ceil(domain[0] / step) * step;
  return d3.range(start, domain[1] + 1e-9, step).map((v) => Math.round(v * 1000) / 1000);
}

const fmt = (v: number) => String(v).replace("-", "−");

function Panel({ i }: { i: number }) {
  const box = boxes[i];
  const pts = pointSets[i];
  const x = d3.scaleLinear().domain(xDomains[i]).range([box.x0, box.x1]);
  const y = d3.scaleLinear().domain(yDomains[i]).range([box.y1, box.y0]);
  const fit = fitLine(pts);
  const band = d3.area<any>().x((d) => x(d.x)).y0((d) => y(d.lo)).y1((d) => y(d.hi))(fit) as string;
  const line = d3.line<any>().x((d) => x(d.x)).y((d) => y(d.y))(fit) as string;

  const xs = pts.map((p) => p[0]);
  const ys = pts.map((p) => p[1]);
  const [xmin, xmax] = d3.extent(xs) as [number, number];
  const [ymin, ymax] = d3.extent(ys) as [number, number];

  const topD = kde(xs, xmin, xmax);
  const topBase = box.y0 - 2;
  const topScale = d3.scaleLinear().domain([0, d3.max(topD, (d) => d[1]) as number]).range([topBase, topBase - 35]);
  const topArea = d3.area<[number, number]>().x((d) => x(d[0])).y0(topBase).y1((d) => topScale(d[1])).curve(d3.curveBasis)(topD) as string;
  const topLine = d3.line<[number, number]>().x((d) => x(d[0])).y((d) => topScale(d[1])).curve(d3.curveBasis)(topD) as string;

  const rightD = kde(ys, ymin, ymax);
  const rBase = box.x1 + 2;
  const rScale = d3.scaleLinear().domain([0, d3.max(rightD, (d) => d[1]) as number]).range([rBase, rBase + 40]);
  const rArea = d3.area<[number, number]>().y((d) => y(d[0])).x0(rBase).x1((d) => rScale(d[1])).curve(d3.curveBasis)(rightD) as string;
  const rLine = d3.line<[number, number]>().y((d) => y(d[0])).x((d) => rScale(d[1])).curve(d3.curveBasis)(rightD) as string;

  const gx = gridValues(xTickSets[i], xDomains[i]);
  const gy = gridValues(yTickSets[i], yDomains[i]);
  const midX = (box.x0 + box.x1) / 2;
  const midY = (box.y0 + box.y1) / 2;

  return (
    <g>
      <text x={box.x0 + 1} y={box.y0 - 50} fontFamily={FONT} fontSize={20} fill="#1a1a1a">{titles[i]}</text>
      <path d={topArea} fill={ORANGE} />
      <path d={topLine} fill="none" stroke="#111" strokeWidth={1} />
      {showRight[i] && (
        <g>
          <path d={rArea} fill={BLUE} />
          <path d={rLine} fill="none" stroke="#111" strokeWidth={1} />
        </g>
      )}
      <rect x={box.x0} y={box.y0} width={box.x1 - box.x0} height={box.y1 - box.y0} fill="#fff" />
      {gy.map((v) => (
        <line key={"gy" + v} x1={box.x0 + 4} x2={box.x1} y1={y(v)} y2={y(v)} stroke="#333" strokeWidth={0.9} strokeDasharray="1 10.5" />
      ))}
      {gx.map((v) => (
        <line key={"gx" + v} x1={x(v)} x2={x(v)} y1={box.y0 + 4} y2={box.y1} stroke="#333" strokeWidth={0.9} strokeDasharray="1 11.5" />
      ))}
      {pts.map((p, k) => (
        <circle key={k} cx={x(p[0])} cy={y(p[1])} r={2.1} fill="#0d0d0d" />
      ))}
      <path d={band} fill="#999999" fillOpacity={0.4} />
      <path d={line} fill="none" stroke={LINE} strokeWidth={1.2} />
      <text x={box.x0 + 10} y={box.y0 + 19} fontFamily={FONT} fontSize={15.5} fill={TXT}>
        <tspan fontStyle="italic">R</tspan>
        <tspan>{"=" + rValues[i] + ", "}</tspan>
        <tspan fontStyle="italic">p</tspan>
        <tspan>{pValues[i]}</tspan>
      </text>
      <rect x={box.x0} y={box.y0} width={box.x1 - box.x0} height={box.y1 - box.y0} fill="none" stroke="#4d4d4d" strokeWidth={1.3} />
      {xTickSets[i].map((t) => (
        <g key={"xt" + t}>
          <line x1={x(t)} x2={x(t)} y1={box.y1} y2={box.y1 + 3} stroke="#333" strokeWidth={1} />
          <text x={x(t)} y={box.y1 + 16} textAnchor="middle" fontFamily={FONT} fontSize={15} fill={TXT}>{fmt(t)}</text>
        </g>
      ))}
      {yTickSets[i].map((t) => (
        <g key={"yt" + t}>
          <line x1={box.x0 - 3} x2={box.x0} y1={y(t)} y2={y(t)} stroke="#333" strokeWidth={1} />
          <text x={box.x0 - 5} y={y(t) + 5} textAnchor="end" fontFamily={FONT} fontSize={15} fill={TXT}>{fmt(t)}</text>
        </g>
      ))}
      <text x={midX} y={box.y1 + 30.5} textAnchor="middle" fontFamily={FONT} fontSize={15.5} fill={TXT}>{xLabels[i]}</text>
      <text transform={`translate(${box.x0 - 18.5},${midY}) rotate(-90)`} textAnchor="middle" fontFamily={FONT} fontSize={15.5} fill={TXT}>MSH2</text>
      <text x={midX} y={captionYs[i]} textAnchor="middle" fontFamily={FONT} fontSize={19} fill="#1a1a1a">{captions[i]}</text>
    </g>
  );
}

export default function App() {
  return (
    <div style={{ position: "absolute", left: 0, top: 0, width: 617, height: 1425, overflow: "hidden", background: "#fff" }}>
      <svg width={617} height={1425} style={{ display: "block" }}>
        <rect width={617} height={1425} fill="#fff" />
        {titles.map((_, i) => (
          <Panel key={i} i={i} />
        ))}
      </svg>
    </div>
  );
}
